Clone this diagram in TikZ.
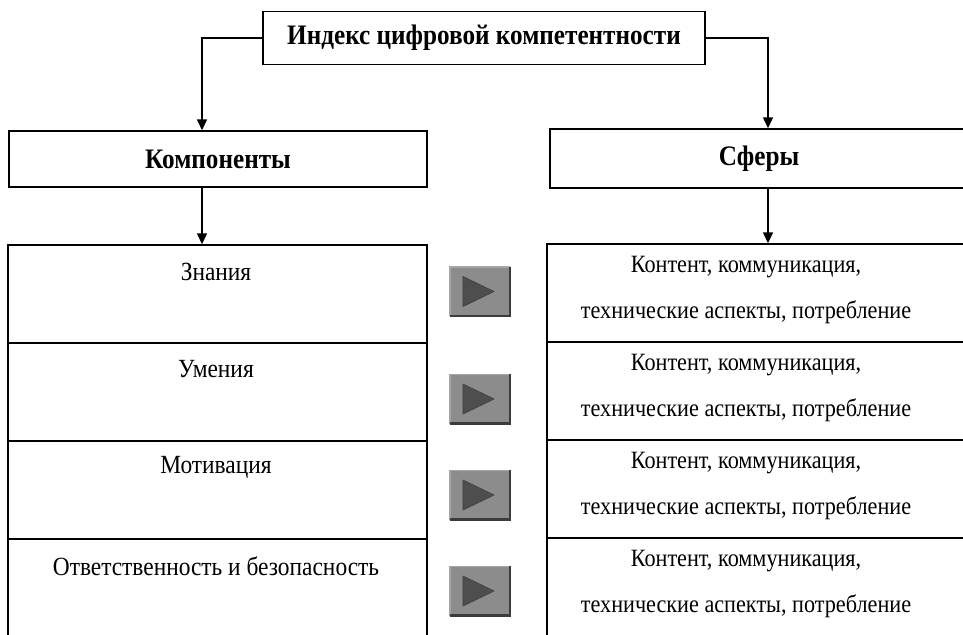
\documentclass[tikz,border=0pt]{standalone}
\usepackage{graphicx}
\usepackage{fontspec}
\setmainfont{Liberation Serif}
\usetikzlibrary{arrows.meta}
\definecolor{btngray}{HTML}{8C8C8C}
\definecolor{btndark}{HTML}{3C3C3C}
\definecolor{btnlight}{HTML}{A6A6A6}
\definecolor{trifill}{HTML}{4E4E4E}
\newcommand{\stretchtxt}[1]{\scalebox{1}[1.12]{#1}}
\tikzset{
  box/.style={draw=black, line width=1.4pt, rectangle, inner sep=0pt},
  headtxt/.style={font=\fontsize{25.2}{30}\selectfont\bfseries},
  celltxt/.style={font=\fontsize{22.2}{46}\selectfont, align=center, inner sep=0pt},
  lefttxt/.style={font=\fontsize{23.4}{30}\selectfont, align=center, inner sep=0pt},
  arr/.style={line width=1.4pt, -{Triangle[length=11pt,width=10pt]}},
  btn/.style={rectangle, fill=btngray, minimum width=60pt, minimum height=49pt, inner sep=0pt}
}
\begin{document}
\begin{tikzpicture}[x=1pt,y=-1pt]
\useasboundingbox (0,0) rectangle (963,634);
\fill[white] (0,0) rectangle (963,634);
% header boxes
\node[box, headtxt, minimum width=442pt, minimum height=53pt] (top) at (484,38) {\stretchtxt{Индекс цифровой компетентности}};
\node[box, headtxt, minimum width=418pt, minimum height=56pt] (comp) at (218,159) {\stretchtxt{Компоненты}};
\node[box, headtxt, minimum width=415pt, minimum height=59pt] (sph) at (757.5,158.5) {\hspace*{3pt}\raisebox{2pt}{\stretchtxt{Сферы}}};
% left cells
\node[box, minimum width=419pt, minimum height=98pt] (c1) at (217.5,294) {};
\node[box, minimum width=419pt, minimum height=98pt] (c2) at (217.5,392) {};
\node[box, minimum width=419pt, minimum height=98pt] (c3) at (217.5,490) {};
\node[box, minimum width=419pt, minimum height=98pt] (c4) at (217.5,588) {};
\node[lefttxt] (t1) at (216,272) {\stretchtxt{Знания}};
\node[lefttxt] (t2) at (216,369) {\stretchtxt{Умения}};
\node[lefttxt] (t3) at (216,467) {\stretchtxt{Мотивация}};
\node[lefttxt] (t4) at (216,566) {\stretchtxt{Ответственность и безопасность}};
% right cells
\node[box, minimum width=418pt, minimum height=98pt] (r1) at (756,293) {};
\node[box, minimum width=418pt, minimum height=98pt] (r2) at (756,391) {};
\node[box, minimum width=418pt, minimum height=98pt] (r3) at (756,489) {};
\node[box, minimum width=418pt, minimum height=98pt] (r4) at (756,587) {};
\node[celltxt] (s1) at (746,290) {\stretchtxt{Контент, коммуникация,}\\\stretchtxt{технические аспекты, потребление}};
\node[celltxt] (s2) at (746,388) {\stretchtxt{Контент, коммуникация,}\\\stretchtxt{технические аспекты, потребление}};
\node[celltxt] (s3) at (746,486) {\stretchtxt{Контент, коммуникация,}\\\stretchtxt{технические аспекты, потребление}};
\node[celltxt] (s4) at (746,584) {\stretchtxt{Контент, коммуникация,}\\\stretchtxt{технические аспекты, потребление}};
% connectors
\draw[arr] (top.west) -| ([xshift=-16pt]comp.north);
\draw[arr] (top.east) -| ([xshift=10.5pt]sph.north);
\draw[arr] ([xshift=-16pt]comp.south) -- ([xshift=-15.5pt]c1.north);
\draw[arr] ([xshift=10.5pt]sph.south) -- ([xshift=12pt]r1.north);
% buttons
\foreach \n/\y in {b1/291.5, b2/399, b3/495, b4/591}{
  \node[btn] (\n) at (480,\y) {};
  \draw[btnlight, line width=1.5pt] (\n.south west) -- (\n.north west) -- (\n.north east);
  \draw[btndark, line width=2.5pt] (\n.south west) -- (\n.south east) -- (\n.north east);
  \draw[fill=trifill, draw=btndark, line width=0.6pt]
    ([xshift=-17pt,yshift=15pt]\n.center) -- ([xshift=14pt]\n.center) -- ([xshift=-17pt,yshift=-15pt]\n.center) -- cycle;
}
\end{tikzpicture}
\end{document}
